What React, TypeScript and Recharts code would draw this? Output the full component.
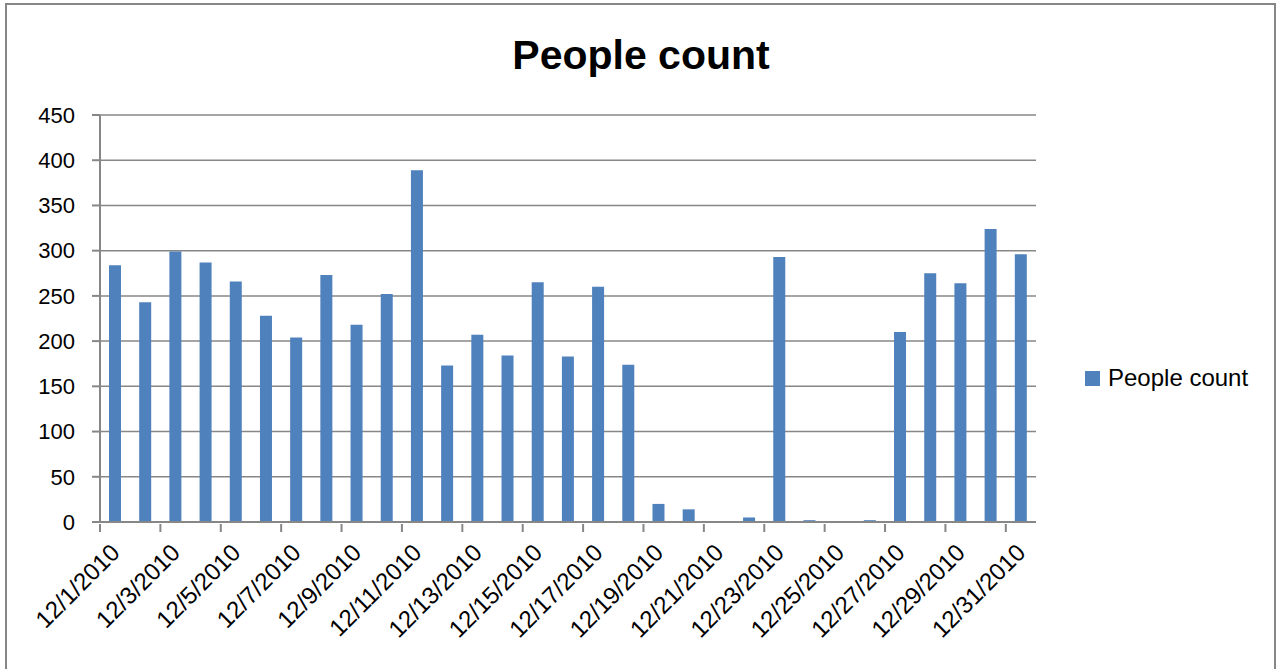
import React from "react";
import {
  Bar,
  BarChart,
  CartesianGrid,
  XAxis,
  YAxis,
} from "recharts";

// Daily people count for December 2010.
const days = [
  "12/1/2010", "12/2/2010", "12/3/2010", "12/4/2010", "12/5/2010", "12/6/2010",
  "12/7/2010", "12/8/2010", "12/9/2010", "12/10/2010", "12/11/2010", "12/12/2010",
  "12/13/2010", "12/14/2010", "12/15/2010", "12/16/2010", "12/17/2010", "12/18/2010",
  "12/19/2010", "12/20/2010", "12/21/2010", "12/22/2010", "12/23/2010", "12/24/2010",
  "12/25/2010", "12/26/2010", "12/27/2010", "12/28/2010", "12/29/2010", "12/30/2010",
  "12/31/2010",
];
const counts = [
  284, 243, 299, 287, 266, 228, 204, 273, 218, 252, 389, 173,
  207, 184, 265, 183, 260, 174, 20, 14, 0, 5, 293, 2,
  0, 2, 210, 275, 264, 324, 296,
];
const yTicks = [0, 50, 100, 150, 200, 250, 300, 350, 400, 450];

const data = days.map((day, i) => ({ day, count: counts[i] }));

const FONT = '"Liberation Sans", Arial, sans-serif';
const GREY = "#878787";
const BLUE = "#4F81BD";

const W = 1282;
const H = 669;
const margin = { top: 115, right: 246, bottom: 0, left: 0 };
const plotWidth = W - margin.left - margin.right - 100;
const band = plotWidth / days.length;

// Excel puts the x tick marks between categories, so draw them by hand.
function DayTick(props: any) {
  const { x, y, payload } = props;
  const ax = x + 6;
  const ay = y + 30;
  return (
    <g>
      <line x1={x - band / 2} y1={y} x2={x - band / 2} y2={y + 8} stroke={GREY} strokeWidth={2} />
      <text
        x={ax}
        y={ay}
        transform={`rotate(-45 ${ax} ${ay})`}
        textAnchor="end"
        fontFamily={FONT}
        fontSize={24}
        fill="#000"
      >
        {payload.value}
      </text>
    </g>
  );
}

export default function App() {
  return (
    <div style={{ position: "fixed", left: 0, top: 0, width: W, height: H, background: "#fff" }}>
      <div
        style={{
          position: "absolute",
          left: 5,
          top: 3,
          width: 1271,
          height: 700,
          border: `2px solid ${GREY}`,
          boxSizing: "border-box",
        }}
      />
      <div
        style={{
          position: "absolute",
          left: 0,
          top: 32,
          width: 1282,
          textAlign: "center",
          fontFamily: FONT,
          fontWeight: "bold",
          fontSize: 41,
        }}
      >
        People count
      </div>
      <div
        style={{
          position: "absolute",
          left: 1085,
          top: 364,
          display: "flex",
          alignItems: "center",
          fontFamily: FONT,
          fontSize: 24,
        }}
      >
        <span style={{ width: 15, height: 15, background: BLUE, display: "inline-block", marginRight: 8 }} />
        <span>People count</span>
      </div>
      <div style={{ position: "absolute", left: 0, top: 0 }}>
        <BarChart width={W} height={H} data={data} margin={margin}>
          <CartesianGrid horizontal vertical={false} stroke={GREY} strokeWidth={1.5} />
          <XAxis
            dataKey="day"
            interval={1}
            height={H - 522}
            tickSize={0}
            tickLine={false}
            axisLine={{ stroke: GREY, strokeWidth: 2 }}
            tick={<DayTick />}
          />
          <YAxis
            domain={[0, 450]}
            ticks={yTicks}
            width={100}
            tickSize={8}
            tickMargin={17}
            axisLine={{ stroke: GREY, strokeWidth: 2 }}
            tickLine={{ stroke: GREY, strokeWidth: 2 }}
            tick={{ fill: "#000", fontSize: 22, fontFamily: FONT }}
          />
          <Bar dataKey="count" fill={BLUE} barSize={12} isAnimationActive={false} />
        </BarChart>
      </div>
    </div>
  );
}
